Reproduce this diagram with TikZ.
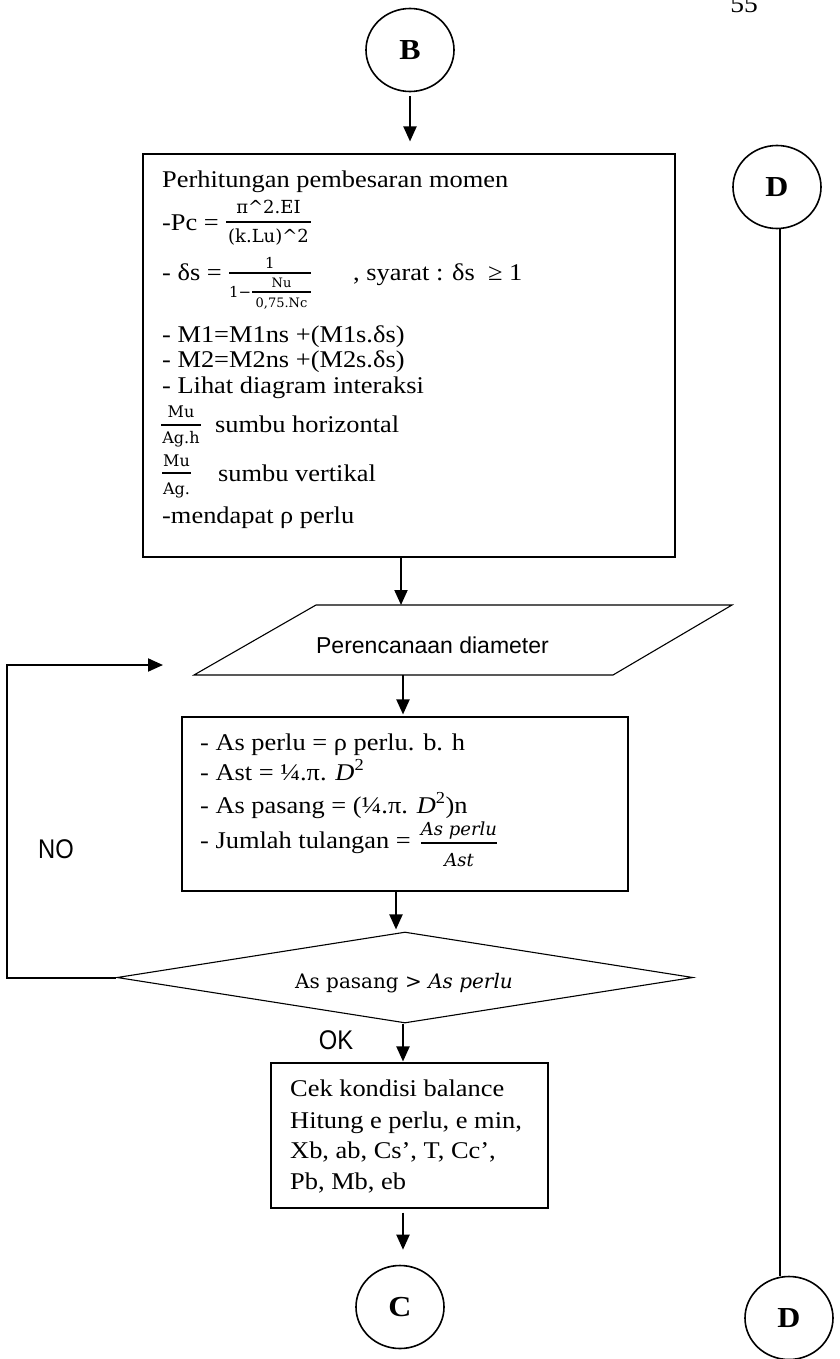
\documentclass[tikz,border=0pt]{standalone}
\usepackage{fontspec}
\setmainfont{Liberation Serif}[FakeStretch=1.1]
\newfontfamily\cambriaish{DejaVu Serif}
\newfontfamily\arialfont{Liberation Sans}
\newfontfamily\arialnarrow{Liberation Sans}[FakeStretch=0.88]
\usetikzlibrary{arrows.meta,shapes.geometric}

\tikzset{
  flow/.style={line width=2pt,-{Triangle[length=15pt,width=13pt]}},
  link/.style={line width=1.8pt},
  procbox/.style={draw,line width=1.1pt,rectangle,inner sep=0pt},
  connector/.style={draw,ellipse,line width=1.6pt,minimum width=88pt,minimum height=83pt,
    inner sep=0pt,font=\fontsize{29}{29}\selectfont\bfseries},
  decision/.style={draw,diamond,line width=1.1pt,aspect=6.3,inner sep=0pt},
  txt/.style={anchor=base west,inner sep=0pt,font=\fontsize{24}{28}\selectfont},
  fractxt/.style={anchor=base,inner sep=0pt},
  fracrule/.style={line width=1.3pt},
  sanslabel/.style={inner sep=0pt,font=\arialnarrow\fontsize{27}{27}\selectfont},
}

% fraction: #1 name, #2 left x, #3 right x, #4 bar y,
% #5 numerator baseline y, #6 denominator baseline y, #7 font, #8 numerator, #9 denominator
\newcommand{\stackfrac}[9]{%
  \draw[fracrule] (#2,#4) -- (#3,#4);
  \node[fractxt,font=#7] (#1num) at ({(#2+#3)/2},#5) {#8};
  \node[fractxt,font=#7] (#1den) at ({(#2+#3)/2},#6) {#9};
}

\begin{document}
\begin{tikzpicture}[x=1pt,y=-1pt]
\useasboundingbox (0,0) rectangle (840,1359);

% page number
\node[anchor=base,inner sep=0pt,font=\fontsize{25}{25}\selectfont] (pageno) at (744,13) {55};

% off-page connectors
\node[connector] (B) at (410,50) {B};
\node[connector] (C) at (400,1307) {C};
\node[connector] (Dt) at (777,187) {D};
\node[connector] (Db) at (789,1318) {D};

% moment magnification box
\node[procbox,minimum width=532pt,minimum height=403pt] (box1) at (409,355.5) {};
\node[txt] (b1l1) at (162,187) {Perhitungan pembesaran momen};
\node[txt] (b1l2) at (162,230) {-Pc =};
\stackfrac{pc}{226}{311}{222}{214}{242}{\cambriaish\fontsize{18}{18}\selectfont}{π\^{}2.EI}{(k.Lu)\^{}2}
\node[txt] (b1l3) at (162,280) {- δs =};
\draw[fracrule] (229,273) -- (311,273);
\node[fractxt,font=\cambriaish\fontsize{15}{15}\selectfont] (ds1) at (270,268) {1};
\node[anchor=base west,inner sep=0pt,font=\cambriaish\fontsize{15}{15}\selectfont] (ds2) at (229,297) {1−};
\stackfrac{nu}{252}{311}{292}{287}{307}{\cambriaish\fontsize{13}{13}\selectfont}{Nu}{0,75.Nc}
\node[txt] (b1l3b) at (353,280) {, syarat : δs~ ≥ 1};
\node[txt] (b1l4) at (162,342) {- M1=M1ns +(M1s.δs)};
\node[txt] (b1l5) at (162,367) {- M2=M2ns +(M2s.δs)};
\node[txt] (b1l6) at (162,393) {- Lihat diagram interaksi};
\stackfrac{mh}{161}{201}{425}{417}{443}{\cambriaish\fontsize{16}{16}\selectfont}{Mu}{Ag.h}
\node[txt] (b1l7) at (215,432) {sumbu horizontal};
\stackfrac{mv}{162}{191}{473}{466}{494}{\cambriaish\fontsize{16}{16}\selectfont}{Mu}{Ag.}
\node[txt] (b1l8) at (218,481) {sumbu vertikal};
\node[txt] (b1l9) at (162,523) {-mendapat ρ perlu};

% input: bar diameter
\coordinate (pbl) at (194,675);
\coordinate (pbr) at (613,675);
\coordinate (ptr) at (732,605);
\coordinate (ptl) at (316,605);
\draw[line width=1.1pt] (pbl) -- (pbr) -- (ptr) -- (ptl) -- cycle;
\node[anchor=base,inner sep=0pt,font=\arialfont\fontsize{23}{23}\selectfont] (para) at (432.5,653) {Perencanaan diameter};
\coordinate (pin) at (401,605);
\coordinate (pout) at (403,675);

% reinforcement box
\node[procbox,minimum width=446pt,minimum height=174pt] (box2) at (405,804) {};
\node[txt] (b2l1) at (200,750) {- As perlu = ρ perlu. b. h};
\node[txt] (b2l2) at (200,780) {- Ast = ¼.π. \textit{D}\textsuperscript{2}};
\node[txt] (b2l3) at (200,813) {- As pasang = (¼.π. \textit{D}\textsuperscript{2})n};
\node[txt] (b2l4) at (200,848) {- Jumlah tulangan =};
\stackfrac{jt}{421}{497}{843}{835}{866}{\cambriaish\itshape\fontsize{18}{18}\selectfont}{As perlu}{Ast}

% check
\node[decision,minimum width=576pt,minimum height=91pt] (dec) at (405,977.5) {};
\node[anchor=base,inner sep=0pt,font=\cambriaish\fontsize{20}{20}\selectfont] (dectxt) at (404,988) {As pasang > \textit{As perlu}};

% balanced condition box
\node[procbox,minimum width=277pt,minimum height=145pt] (box3) at (409.5,1135.5) {};
\node[txt] (b3l1) at (290,1096) {Cek kondisi balance};
\node[txt] (b3l2) at (290,1128) {Hitung e perlu, e min,};
\node[txt] (b3l3) at (290,1158) {Xb, ab, Cs’, T, Cc’,};
\node[txt] (b3l4) at (290,1189) {Pb, Mb, eb};

% labels
\node[sanslabel] (nolab) at (56,849) {NO};
\node[sanslabel] (oklab) at (336,1040) {OK};

% connectors
\draw[flow,shorten <=3.5pt,shorten >=12pt] (B.south) -- (B.south |- box1.north);
\draw[flow] (box1.south -| pin) -- (pin);
\draw[flow,shorten >=2pt] (pout) -- (pout |- box2.north);
\draw[flow,shorten >=2pt] ([xshift=-9pt]box2.south) -- ([xshift=-9pt]box2.south |- dec.north);
\draw[flow,shorten >=1pt] ([xshift=-2pt]dec.south) -- ([xshift=-2pt]dec.south |- box3.north);
\draw[flow,shorten <=4pt,shorten >=15pt] ([xshift=-6.5pt]box3.south) -- ([xshift=-6.5pt]box3.south |- C.north);

\coordinate (loopcorner) at (7,665);
\coordinate (noend) at (163,665);
\draw[flow] (dec.west) -| (loopcorner) -- (noend);

\coordinate (dline) at (780,0);
\draw[link] (Dt.south -| dline) -- (Db.north -| dline);
\end{tikzpicture}
\end{document}
